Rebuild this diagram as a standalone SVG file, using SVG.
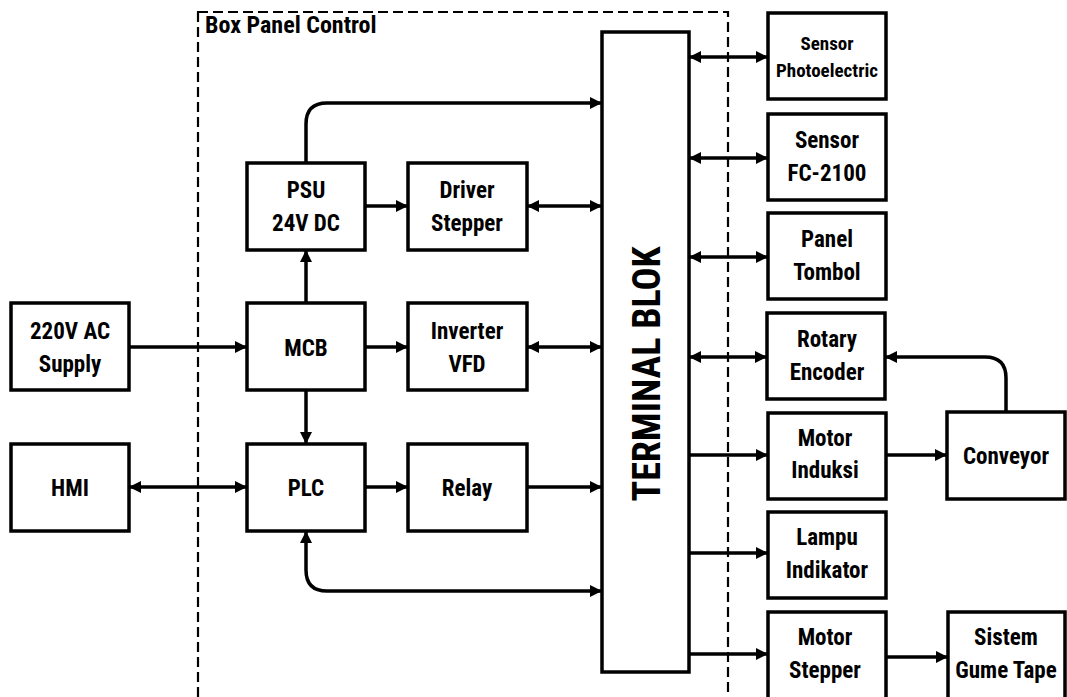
<svg xmlns="http://www.w3.org/2000/svg" width="1067" height="697" viewBox="0 0 1067 697">
<defs>
<style>
.box{fill:#fff;stroke:#000;stroke-width:3.5}
.ln{fill:none;stroke:#000;stroke-width:3.5}
.dash{fill:none;stroke:#000;stroke-width:2.2;stroke-dasharray:10 5}
text{font-family:"Liberation Sans Narrow","Roboto Condensed","Arial Narrow","Liberation Sans",sans-serif;font-weight:bold;fill:#000;text-anchor:middle}
.t{font-size:23px}
.s{font-size:19px}
</style>
<marker id="ah" viewBox="0 0 12 12" refX="11" refY="6" markerWidth="12" markerHeight="12" markerUnits="userSpaceOnUse" orient="auto-start-reverse">
<path d="M0,0 L12,6 L0,12 Z" fill="#000"/>
</marker>
</defs>
<rect width="1067" height="697" fill="#fff"/>
<g id="panel-boundary">
<rect class="dash" x="198" y="12" width="530" height="720"/>
<text x="205" y="33" style="font-size:24px;text-anchor:start">Box Panel Control</text>
</g>
<g id="connectors">
<path class="ln" d="M129,347 H246" marker-end="url(#ah)"/>
<path class="ln" d="M130,487 H246" marker-start="url(#ah)" marker-end="url(#ah)"/>
<path class="ln" d="M306,303 V251" marker-end="url(#ah)"/>
<path class="ln" d="M306,390 V443" marker-end="url(#ah)"/>
<path class="ln" d="M365,347 H407" marker-end="url(#ah)"/>
<path class="ln" d="M365,206 H407" marker-end="url(#ah)"/>
<path class="ln" d="M365,487 H407" marker-end="url(#ah)"/>
<path class="ln" d="M306,163 V124 Q306,103 327,103 H601" marker-end="url(#ah)"/>
<path class="ln" d="M528,206 H601" marker-start="url(#ah)" marker-end="url(#ah)"/>
<path class="ln" d="M528,347 H601" marker-start="url(#ah)" marker-end="url(#ah)"/>
<path class="ln" d="M527,487 H601" marker-end="url(#ah)"/>
<path class="ln" d="M306,532 V570 Q306,591 327,591 H601" marker-start="url(#ah)" marker-end="url(#ah)"/>
<path class="ln" d="M690,57 H767" marker-start="url(#ah)" marker-end="url(#ah)"/>
<path class="ln" d="M690,158 H767" marker-start="url(#ah)" marker-end="url(#ah)"/>
<path class="ln" d="M690,257 H767" marker-start="url(#ah)" marker-end="url(#ah)"/>
<path class="ln" d="M690,357 H766" marker-start="url(#ah)" marker-end="url(#ah)"/>
<path class="ln" d="M689,455 H767" marker-end="url(#ah)"/>
<path class="ln" d="M689,553 H767" marker-end="url(#ah)"/>
<path class="ln" d="M689,654 H767" marker-end="url(#ah)"/>
<path class="ln" d="M886,455 H946" marker-end="url(#ah)"/>
<path class="ln" d="M887,657 H947" marker-end="url(#ah)"/>
<path class="ln" d="M1006,412 V378 Q1006,357 985,357 H886" marker-end="url(#ah)"/>
</g>
<g id="supply"><rect class="box" x="11" y="303" width="118" height="87"/><text class="t" x="70" y="339">220V AC</text><text class="t" x="70" y="372">Supply</text></g>
<g id="hmi"><rect class="box" x="11" y="444" width="118" height="87"/><text class="t" x="70" y="496">HMI</text></g>
<g id="psu"><rect class="box" x="247" y="163" width="118" height="87"/><text class="t" x="306" y="198">PSU</text><text class="t" x="306" y="231">24V DC</text></g>
<g id="driver"><rect class="box" x="408" y="163" width="119" height="87"/><text class="t" x="467" y="198">Driver</text><text class="t" x="467" y="231">Stepper</text></g>
<g id="mcb"><rect class="box" x="247" y="303" width="118" height="87"/><text class="t" x="306" y="356">MCB</text></g>
<g id="inverter"><rect class="box" x="408" y="303" width="119" height="87"/><text class="t" x="467" y="339">Inverter</text><text class="t" x="467" y="372">VFD</text></g>
<g id="plc"><rect class="box" x="247" y="444" width="118" height="87"/><text class="t" x="306" y="496">PLC</text></g>
<g id="relay"><rect class="box" x="408" y="444" width="119" height="87"/><text class="t" x="467" y="496">Relay</text></g>
<g id="terminal"><rect class="box" x="602" y="32" width="87" height="640"/><text x="660" y="374" transform="rotate(-90 660 374)" style="font-size:38px">TERMINAL BLOK</text></g>
<g id="photo"><rect class="box" x="768" y="13" width="118" height="86"/><text class="s" x="827" y="50">Sensor</text><text class="s" x="827" y="77">Photoelectric</text></g>
<g id="fc"><rect class="box" x="768" y="114" width="118" height="86"/><text class="t" x="827" y="148">Sensor</text><text class="t" x="827" y="181">FC-2100</text></g>
<g id="tombol"><rect class="box" x="768" y="213" width="118" height="86"/><text class="t" x="827" y="247">Panel</text><text class="t" x="827" y="280">Tombol</text></g>
<g id="rotary"><rect class="box" x="767" y="313" width="118" height="86"/><text class="t" x="827" y="347">Rotary</text><text class="t" x="827" y="380">Encoder</text></g>
<g id="induksi"><rect class="box" x="768" y="413" width="118" height="86"/><text class="t" x="825" y="446">Motor</text><text class="t" x="825" y="478">Induksi</text></g>
<g id="lampu"><rect class="box" x="768" y="512" width="118" height="86"/><text class="t" x="827" y="545">Lampu</text><text class="t" x="827" y="578">Indikator</text></g>
<g id="mstepper"><rect class="box" x="768" y="612" width="118" height="100"/><text class="t" x="825" y="645">Motor</text><text class="t" x="825" y="678">Stepper</text></g>
<g id="conveyor"><rect class="box" x="947" y="412" width="118" height="87"/><text class="t" x="1006" y="464">Conveyor</text></g>
<g id="gume"><rect class="box" x="948" y="612" width="117" height="100"/><text class="t" x="1006" y="645">Sistem</text><text class="t" x="1006" y="678">Gume Tape</text></g>
</svg>
